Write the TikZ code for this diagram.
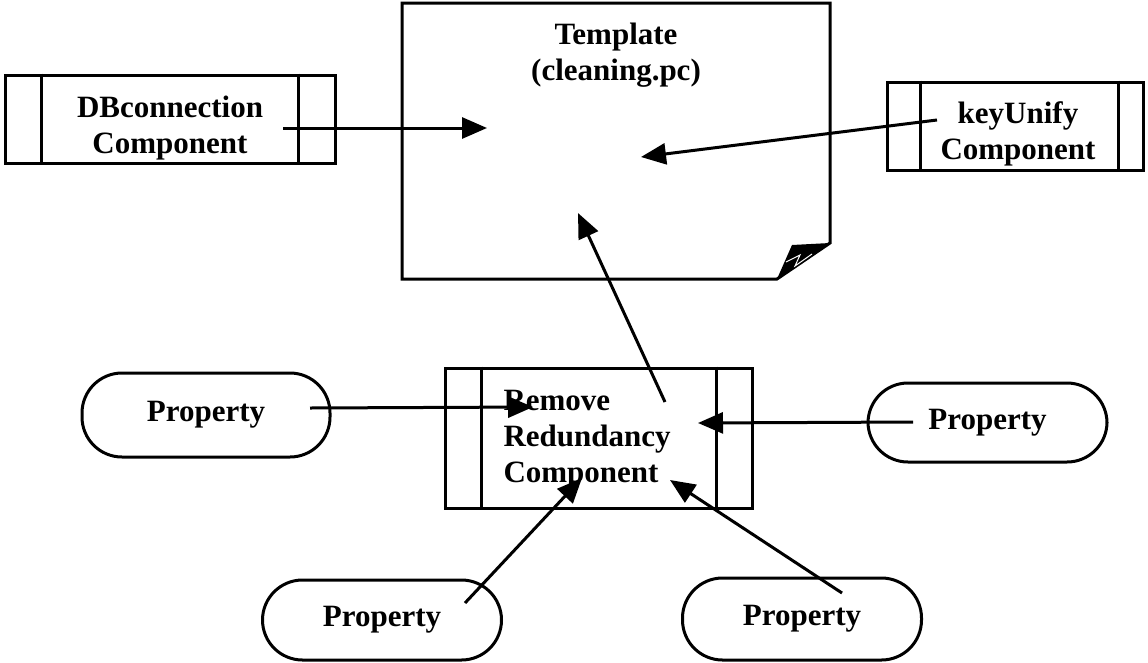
\documentclass[tikz,border=0pt]{standalone}
\usepackage{fontspec}
\setmainfont{Liberation Serif}
\usetikzlibrary{arrows.meta}
\begin{document}
\begin{tikzpicture}[x=1pt,y=-1pt,
  line width=3pt,
  txt/.style={font=\bfseries\fontsize{31}{36}\selectfont, inner sep=0pt},
  compbox/.style={draw, rectangle, inner sep=0pt},
  prop/.style={draw, rectangle, rounded corners=40pt, inner sep=0pt,
    font=\bfseries\fontsize{31}{36}\selectfont},
  link/.style={-{Triangle[length=25pt,width=21pt]}, line width=3pt}
]
\useasboundingbox (0,0) rectangle (1148,662);

% template document with folded corner
\draw[line join=miter] (402,3) -- (830,3) -- (830,243) -- (777,279) -- (402,279) -- cycle;
\fill (792,245) -- (830,243) -- (777,279) -- cycle;
\draw[white, line width=1pt] (786,262) -- (800,255) -- (795,266) -- (812,254);
\node[txt, align=center] (tmpl) at (616,55) {Template\\(cleaning.pc)};

% component boxes
\node[compbox, minimum width=330pt, minimum height=88pt] (db) at (170,119) {};
\draw ([xshift=38pt]db.north west) -- ([xshift=38pt]db.south west);
\draw ([xshift=-38pt]db.north east) -- ([xshift=-38pt]db.south east);
\node[txt, align=center] (dbtxt) at (170,128) {DBconnection\\Component};

\node[compbox, minimum width=256pt, minimum height=88pt] (ku) at (1015,126) {};
\draw ([xshift=35pt]ku.north west) -- ([xshift=35pt]ku.south west);
\draw ([xshift=-26pt]ku.north east) -- ([xshift=-26pt]ku.south east);
\node[txt, align=center] (kutxt) at (1018,134) {keyUnify\\Component};

\node[compbox, minimum width=307pt, minimum height=140pt] (rr) at (598.5,438) {};
\draw ([xshift=38pt]rr.north west) -- ([xshift=38pt]rr.south west);
\draw ([xshift=-37pt]rr.north east) -- ([xshift=-37pt]rr.south east);
\node[txt, align=left, anchor=west] (rrtxt) at (502,440) {Remove\\Redundancy\\Component};

% property nodes
\node[prop, minimum width=248pt, minimum height=84pt] (p1) at (206,415) {Property};
\node[prop, minimum width=239pt, minimum height=79pt] (p2) at (987.5,422.5) {Property};
\node[prop, minimum width=239pt, minimum height=80pt] (p3) at (382,620) {Property};
\node[prop, minimum width=239pt, minimum height=82pt] (p4) at (802,619) {Property};

% connector end points
\coordinate (dbout) at (283,128);
\coordinate (dbin) at (487,128);
\coordinate (kuout) at (937,120);
\coordinate (kuin) at (641,157);
\coordinate (rrout) at (665,402);
\coordinate (rrin) at (578,213);
\coordinate (p1out) at (310,408);
\coordinate (p1in) at (533,407);
\coordinate (p2out) at (913,422);
\coordinate (p2in) at (698,423);
\coordinate (p3out) at (465,603);
\coordinate (p3in) at (582,478);
\coordinate (p4out) at (842,593);
\coordinate (p4in) at (670,480);

% connectors
\draw[link] (dbout) -- (dbin);
\draw[link] (kuout) -- (kuin);
\draw[link] (rrout) -- (rrin);
\draw[link] (p1out) -- (p1in);
\draw[link] (p2out) -- (p2in);
\draw[link] (p3out) -- (p3in);
\draw[link] (p4out) -- (p4in);
\end{tikzpicture}
\end{document}
